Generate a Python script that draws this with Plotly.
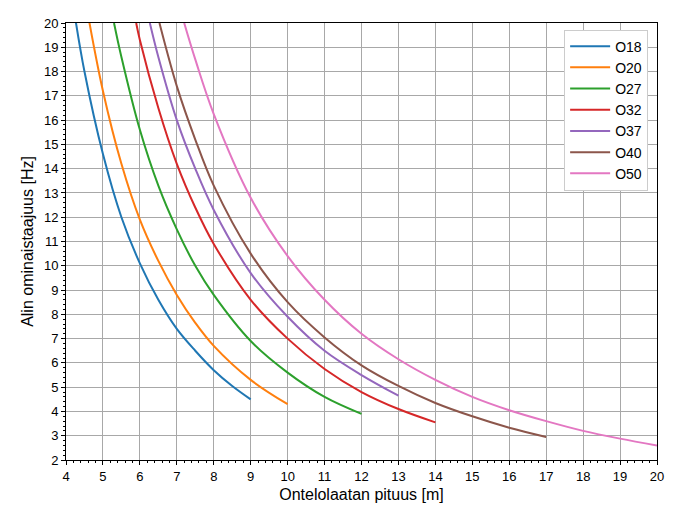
import plotly.graph_objects as go

# values (length m -> lowest natural frequency Hz)
names = ["O18", "O20", "O27", "O32", "O37", "O40", "O50"]
colors = ["#1f77b4", "#ff7f0e", "#2ca02c", "#d62728", "#9467bd", "#8c564b", "#e377c2"]

o18_x = [4.25, 4.5, 5, 5.5, 6, 6.5, 7, 7.5, 8, 8.5, 9]
o18_y = [20.2, 18.0, 14.6, 12.0, 10.1, 8.6, 7.4, 6.5, 5.7, 5.05, 4.5]
o20_x = [4.6, 5, 5.5, 6, 6.5, 7, 7.5, 8, 9, 10]
o20_y = [20.3, 17.2, 14.2, 11.9, 10.2, 8.8, 7.65, 6.7, 5.3, 4.3]
o27_x = [5.3, 5.5, 6, 6.5, 7, 7.5, 8, 9, 10, 11, 12]
o27_y = [20.0, 18.6, 15.6, 13.3, 11.5, 10.0, 8.8, 6.9, 5.6, 4.6, 3.9]
o32_x = [5.9, 6, 6.5, 7, 7.5, 8, 9, 10, 11, 12, 13, 14]
o32_y = [20.0, 19.3, 16.5, 14.2, 12.4, 10.9, 8.6, 7.0, 5.75, 4.8, 4.1, 3.55]
o37_x = [6.27, 6.5, 7, 7.5, 8, 9, 10, 11, 12, 13]
o37_y = [20.0, 18.6, 16.0, 14.0, 12.3, 9.7, 7.9, 6.5, 5.5, 4.65]
o40_x = [6.53, 7, 7.5, 8, 9, 10, 11, 12, 13, 14, 15, 16, 17]
o40_y = [20.0, 17.4, 15.2, 13.3, 10.5, 8.5, 7.05, 5.9, 5.05, 4.35, 3.8, 3.33, 2.95]
o50_x = [7.2, 7.5, 8, 9, 10, 11, 12, 13, 14, 15, 16, 17, 18, 19, 20]
o50_y = [20.0, 18.5, 16.25, 12.8, 10.4, 8.6, 7.2, 6.15, 5.3, 4.6, 4.05, 3.6, 3.2, 2.88, 2.6]

series = [(o18_x, o18_y), (o20_x, o20_y), (o27_x, o27_y), (o32_x, o32_y),
          (o37_x, o37_y), (o40_x, o40_y), (o50_x, o50_y)]

fig = go.Figure()
for name, color, (xs, ys) in zip(names, colors, series):
    fig.add_trace(go.Scatter(x=xs, y=ys, name=name, mode="lines",
                             line=dict(color=color, width=2, shape="spline")))

axis_common = dict(showline=True, linecolor="black", mirror=True, ticks="outside",
                   ticklen=4, tickcolor="black", showgrid=True, gridcolor="#a8a8a8",
                   gridwidth=1, zeroline=False,
                   minor=dict(ticks="outside", ticklen=2, tickcolor="black",
                              showgrid=False))

fig.update_xaxes(range=[4, 20], dtick=1, title_text="Ontelolaatan pituus [m]",
                 title_standoff=6, minor_dtick=0.2, **axis_common)
fig.update_yaxes(range=[2, 20], dtick=1, title_text="Alin ominaistaajuus [Hz]",
                 title_standoff=6, minor_dtick=0.2, **axis_common)

fig.update_layout(
    width=678, height=523,
    margin=dict(l=58, r=29, t=8, b=71),
    plot_bgcolor="white", paper_bgcolor="white",
    font=dict(family="Liberation Sans, Arial", size=13, color="black"),
    legend=dict(x=0.985, y=0.985, xanchor="right", yanchor="top",
                bgcolor="white", bordercolor="#cccccc", borderwidth=1,
                font=dict(size=14), itemwidth=40, tracegroupgap=2),
)

fig.write_html("out.html")
